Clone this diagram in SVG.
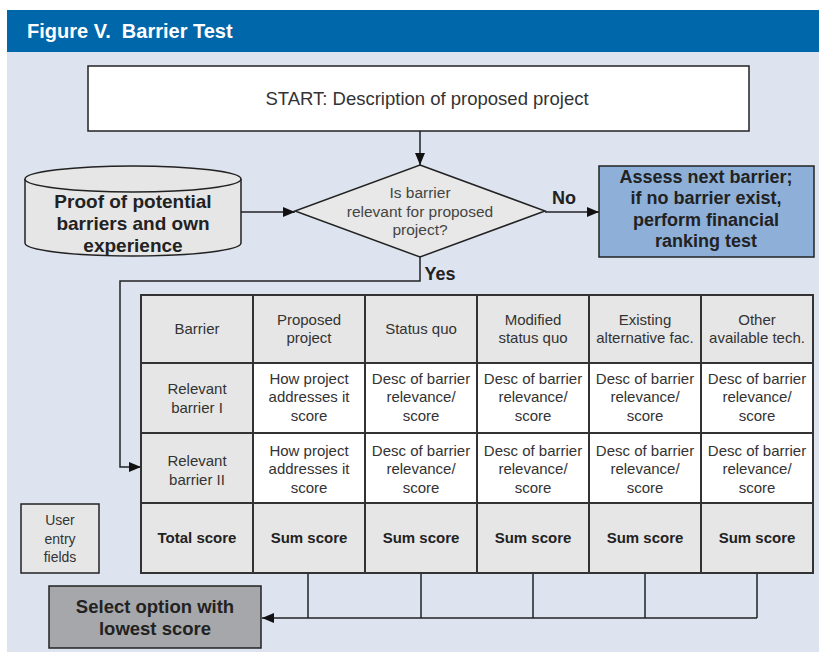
<svg xmlns="http://www.w3.org/2000/svg" width="819" height="652" viewBox="0 0 819 652">
<style>
.ln{stroke:#222;stroke-width:1.5;fill:none}
.bx{stroke:#222;stroke-width:1.5}
.t{font-family:"Liberation Sans",Arial,sans-serif;fill:#333;text-anchor:middle}
.n{font-size:15px}
.b{font-weight:bold;fill:#222}
.cellg{fill:#e6e6e6;stroke:#333;stroke-width:2}
.cellw{fill:#ffffff;stroke:#333;stroke-width:2}
</style>
<defs>
<marker id="ah" markerWidth="12" markerHeight="10" refX="12" refY="5" orient="auto" markerUnits="userSpaceOnUse">
<path d="M0,0 L12,5 L0,10 Z" fill="#111"/>
</marker>
</defs>
<rect x="0" y="0" width="819" height="652" fill="#ffffff"/>
<rect x="7" y="52" width="812" height="600" fill="#dde4f0"/>
<g id="header">
<rect x="7" y="10" width="812" height="42" fill="#0067ab"/>
<text x="27" y="38" style="font-family:'Liberation Sans',Arial,sans-serif;font-weight:bold;font-size:20px;fill:#fff">Figure V.&#160; Barrier Test</text>
</g>
<g id="connectors">
<line class="ln" x1="420" y1="131" x2="420" y2="165" marker-end="url(#ah)"/>
<line class="ln" x1="241" y1="212" x2="295" y2="212" marker-end="url(#ah)"/>
<line class="ln" x1="545" y1="212" x2="599" y2="212" marker-end="url(#ah)"/>
<polyline class="ln" points="420,257 420,281 120,281 120,467 141,467" marker-end="url(#ah)"/>
<line class="ln" x1="308" y1="573" x2="308" y2="618"/>
<line class="ln" x1="421" y1="573" x2="421" y2="618"/>
<line class="ln" x1="533" y1="573" x2="533" y2="618"/>
<line class="ln" x1="645" y1="573" x2="645" y2="618"/>
<line class="ln" x1="757" y1="573" x2="757" y2="618"/>
<line class="ln" x1="757" y1="618" x2="262" y2="618" marker-end="url(#ah)"/>
<text class="t b" x="564" y="204" style="font-size:18px">No</text>
<text class="t b" x="440" y="280" style="font-size:18px">Yes</text>
</g>
<g id="start">
<rect class="bx" x="88" y="66" width="661" height="65" fill="#fff"/>
<text class="t" x="427" y="105" style="font-size:18.5px">START: Description of proposed project</text>
</g>
<g id="decision">
<polygon class="bx" points="420,165 545,211 420,257 295,211" fill="#e8e8e8"/>
<text class="t" x="420" y="198" style="fill:#444;font-size:15.5px">Is barrier</text>
<text class="t" x="420" y="217" style="fill:#444;font-size:15.5px">relevant for proposed</text>
<text class="t" x="420" y="235" style="fill:#444;font-size:15.5px">project?</text>
</g>
<g id="source">
<path class="bx" d="M25,179 L25,243 A108,13 0 0 0 241,243 L241,179" fill="#e6e6e6"/>
<ellipse class="bx" cx="133" cy="179" rx="108" ry="13" fill="#e6e6e6"/>
<text class="t b" x="133" y="208" style="font-size:19px">Proof of potential</text>
<text class="t b" x="133" y="230" style="font-size:19px">barriers and own</text>
<text class="t b" x="133" y="252" style="font-size:19px">experience</text>
</g>
<g id="assess">
<rect class="bx" x="599" y="166" width="215" height="91" fill="#8eb0d8"/>
<text class="t b" x="706" y="183" style="font-size:18px">Assess next barrier;</text>
<text class="t b" x="706" y="204" style="font-size:18px">if no barrier exist,</text>
<text class="t b" x="706" y="226" style="font-size:18px">perform financial</text>
<text class="t b" x="706" y="247" style="font-size:18px">ranking test</text>
</g>
<g id="table">
<rect class="cellg" x="141" y="295" width="112" height="68"/>
<rect class="cellg" x="253" y="295" width="112" height="68"/>
<rect class="cellg" x="365" y="295" width="112" height="68"/>
<rect class="cellg" x="477" y="295" width="112" height="68"/>
<rect class="cellg" x="589" y="295" width="112" height="68"/>
<rect class="cellg" x="701" y="295" width="112" height="68"/>
<rect class="cellg" x="141" y="363" width="112" height="70"/>
<rect class="cellw" x="253" y="363" width="112" height="70"/>
<rect class="cellw" x="365" y="363" width="112" height="70"/>
<rect class="cellw" x="477" y="363" width="112" height="70"/>
<rect class="cellw" x="589" y="363" width="112" height="70"/>
<rect class="cellw" x="701" y="363" width="112" height="70"/>
<rect class="cellg" x="141" y="433" width="112" height="70"/>
<rect class="cellw" x="253" y="433" width="112" height="70"/>
<rect class="cellw" x="365" y="433" width="112" height="70"/>
<rect class="cellw" x="477" y="433" width="112" height="70"/>
<rect class="cellw" x="589" y="433" width="112" height="70"/>
<rect class="cellw" x="701" y="433" width="112" height="70"/>
<rect class="cellg" x="141" y="503" width="112" height="70"/>
<rect class="cellg" x="253" y="503" width="112" height="70"/>
<rect class="cellg" x="365" y="503" width="112" height="70"/>
<rect class="cellg" x="477" y="503" width="112" height="70"/>
<rect class="cellg" x="589" y="503" width="112" height="70"/>
<rect class="cellg" x="701" y="503" width="112" height="70"/>
<text class="t n" x="197" y="334">Barrier</text>
<text class="t n" x="309" y="325">Proposed</text>
<text class="t n" x="309" y="343">project</text>
<text class="t n" x="421" y="334">Status quo</text>
<text class="t n" x="533" y="325">Modified</text>
<text class="t n" x="533" y="343">status quo</text>
<text class="t n" x="645" y="325">Existing</text>
<text class="t n" x="645" y="343">alternative fac.</text>
<text class="t n" x="757" y="325">Other</text>
<text class="t n" x="757" y="343">available tech.</text>
<text class="t n" x="197" y="394">Relevant</text>
<text class="t n" x="197" y="413">barrier I</text>
<text class="t n" x="309" y="384">How project</text>
<text class="t n" x="309" y="402">addresses it</text>
<text class="t n" x="309" y="421">score</text>
<text class="t n" x="421" y="384">Desc of barrier</text>
<text class="t n" x="421" y="402">relevance/</text>
<text class="t n" x="421" y="421">score</text>
<text class="t n" x="533" y="384">Desc of barrier</text>
<text class="t n" x="533" y="402">relevance/</text>
<text class="t n" x="533" y="421">score</text>
<text class="t n" x="645" y="384">Desc of barrier</text>
<text class="t n" x="645" y="402">relevance/</text>
<text class="t n" x="645" y="421">score</text>
<text class="t n" x="757" y="384">Desc of barrier</text>
<text class="t n" x="757" y="402">relevance/</text>
<text class="t n" x="757" y="421">score</text>
<text class="t n" x="197" y="466">Relevant</text>
<text class="t n" x="197" y="485">barrier II</text>
<text class="t n" x="309" y="456">How project</text>
<text class="t n" x="309" y="474">addresses it</text>
<text class="t n" x="309" y="493">score</text>
<text class="t n" x="421" y="456">Desc of barrier</text>
<text class="t n" x="421" y="474">relevance/</text>
<text class="t n" x="421" y="493">score</text>
<text class="t n" x="533" y="456">Desc of barrier</text>
<text class="t n" x="533" y="474">relevance/</text>
<text class="t n" x="533" y="493">score</text>
<text class="t n" x="645" y="456">Desc of barrier</text>
<text class="t n" x="645" y="474">relevance/</text>
<text class="t n" x="645" y="493">score</text>
<text class="t n" x="757" y="456">Desc of barrier</text>
<text class="t n" x="757" y="474">relevance/</text>
<text class="t n" x="757" y="493">score</text>
<text class="t n b" x="197" y="543">Total score</text>
<text class="t n b" x="309" y="543">Sum score</text>
<text class="t n b" x="421" y="543">Sum score</text>
<text class="t n b" x="533" y="543">Sum score</text>
<text class="t n b" x="645" y="543">Sum score</text>
<text class="t n b" x="757" y="543">Sum score</text>
</g>
<g id="legend">
<rect class="bx" x="21" y="504" width="78" height="69" fill="#e6e6e6"/>
<text class="t" x="60" y="525" style="font-size:14px">User</text>
<text class="t" x="60" y="544" style="font-size:14px">entry</text>
<text class="t" x="60" y="562" style="font-size:14px">fields</text>
</g>
<g id="select">
<rect class="bx" x="49" y="586" width="212" height="62" fill="#a6a7aa"/>
<text class="t b" x="155" y="613" style="font-size:18.5px">Select option with</text>
<text class="t b" x="155" y="635" style="font-size:18.5px">lowest score</text>
</g>
</svg>
